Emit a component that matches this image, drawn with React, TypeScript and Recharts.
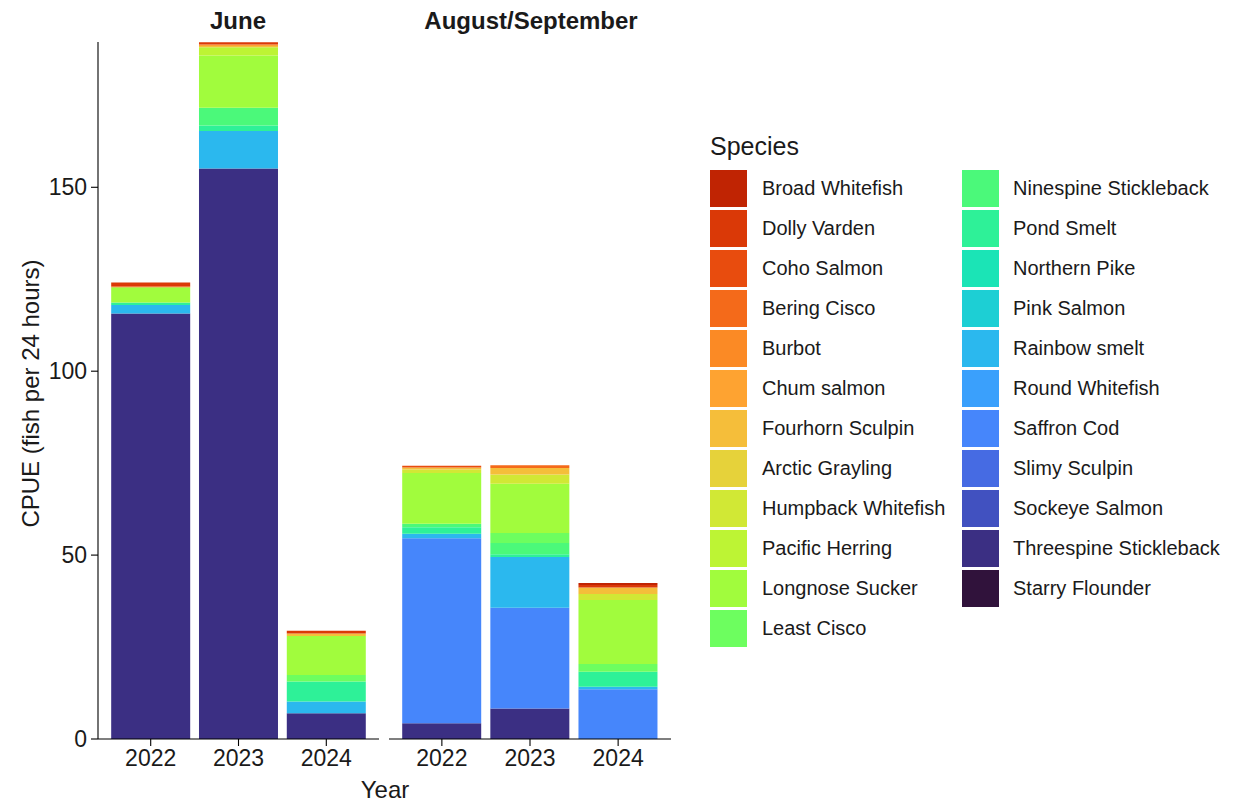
import React from 'react';
import { BarChart, Bar, XAxis, YAxis } from 'recharts';

const FONT = '"Liberation Sans", Arial, sans-serif';

const years = ['2022', '2023', '2024'];
const yTicks = [0, 50, 100, 150];

// legend order (top of the stack first)
const speciesNames = [
  'Broad Whitefish', 'Dolly Varden', 'Coho Salmon', 'Bering Cisco', 'Burbot', 'Chum salmon',
  'Fourhorn Sculpin', 'Arctic Grayling', 'Humpback Whitefish', 'Pacific Herring', 'Longnose Sucker',
  'Least Cisco', 'Ninespine Stickleback', 'Pond Smelt', 'Northern Pike', 'Pink Salmon',
  'Rainbow smelt', 'Round Whitefish', 'Saffron Cod', 'Slimy Sculpin', 'Sockeye Salmon',
  'Threespine Stickleback', 'Starry Flounder',
];

const speciesColors = [
  '#C02403', '#DA3907', '#E84C0E', '#F46A1A', '#FB8A25', '#FEA331',
  '#F5BE3A', '#E6D23A', '#D1E835', '#BDF434', '#A1FC3D',
  '#6DFE5F', '#4BF97A', '#2EF198', '#1BE4B6', '#1DCFD4',
  '#2BB8EE', '#3AA0FC', '#4686FB', '#466BE3', '#4151C0',
  '#3B2F83', '#30123B',
];

// CPUE per species: [June 2022, June 2023, June 2024, Aug/Sep 2022, Aug/Sep 2023, Aug/Sep 2024]
const broadWhitefish = [0, 0, 0, 0, 0, 0.5];
const dollyVarden = [1.0, 0.6, 0.7, 0, 0, 0.7];
const cohoSalmon = [0, 0, 0, 0.5, 0, 0];
const beringCisco = [0.3, 0, 0, 0, 0.7, 0];
const burbot = [0, 0, 0, 0, 0, 0];
const chumSalmon = [0, 0.4, 0, 0, 0, 0];
const fourhornSculpin = [0, 0.3, 0.7, 0.5, 1.8, 1.8];
const arcticGrayling = [0, 0, 0, 0, 0, 0];
const humpbackWhitefish = [0, 0, 0, 1.0, 2.5, 1.6];
const pacificHerring = [0, 2.3, 0, 0, 0, 0];
const longnoseSucker = [4.1, 14.2, 10.6, 13.8, 13.4, 17.4];
const leastCisco = [0, 0, 1.8, 0, 2.7, 2.1];
const ninespineStickleback = [0, 4.8, 0, 0.9, 3.1, 0];
const pondSmelt = [0.7, 1.5, 5.4, 1.8, 0.7, 4.1];
const northernPike = [0, 0, 0, 0, 0, 0];
const pinkSalmon = [0, 0, 0, 0, 0, 0];
const rainbowSmelt = [2.3, 10.2, 3.2, 1.2, 13.8, 0.7];
const roundWhitefish = [0, 0, 0, 0, 0, 0];
const saffronCod = [0, 0, 0, 50.3, 27.4, 13.5];
const slimySculpin = [0, 0, 0, 0, 0, 0];
const sockeyeSalmon = [0, 0, 0, 0, 0, 0];
const threespineStickleback = [115.7, 155.1, 7.0, 4.3, 8.3, 0];
const starryFlounder = [0, 0, 0, 0, 0, 0];

const speciesValues = [
  broadWhitefish, dollyVarden, cohoSalmon, beringCisco, burbot, chumSalmon,
  fourhornSculpin, arcticGrayling, humpbackWhitefish, pacificHerring, longnoseSucker,
  leastCisco, ninespineStickleback, pondSmelt, northernPike, pinkSalmon,
  rainbowSmelt, roundWhitefish, saffronCod, slimySculpin, sockeyeSalmon,
  threespineStickleback, starryFlounder,
];

const buildRows = (offset: number) =>
  years.map((year, i) => {
    const row: any = { year };
    speciesNames.forEach((name, s) => {
      row[name] = speciesValues[s][offset + i];
    });
    return row;
  });

const juneData = buildRows(0);
const augData = buildRows(3);

const Y_MAX = 189.5;
const axisLine = { stroke: '#000', strokeWidth: 1.1 };
const tickStyle = { fill: '#1a1a1a', fontSize: 23, fontFamily: FONT };

// bars drawn bottom-up, so reverse the legend order
const stackOrder = speciesNames.map((_, i) => i).reverse();

function Panel({ data, showY }: { data: any[]; showY: boolean }) {
  return (
    <BarChart
      width={showY ? 382 : 284}
      height={790}
      data={data}
      margin={{ top: 42, right: showY ? 3 : 2, left: 0, bottom: 0 }}
      barCategoryGap="5%"
    >
      <XAxis
        dataKey="year"
        padding={{ left: 8.8, right: 8.8 }}
        axisLine={axisLine}
        tickLine={{ stroke: '#000', strokeWidth: 1.1 }}
        tickSize={7}
        tickMargin={4}
        tick={tickStyle}
        height={51}
        interval={0}
      />
      <YAxis
        hide={!showY}
        type="number"
        domain={[0, Y_MAX]}
        ticks={yTicks}
        allowDataOverflow
        width={98}
        axisLine={axisLine}
        tickLine={{ stroke: '#000', strokeWidth: 1.1 }}
        tickSize={7}
        tickMargin={4}
        tick={tickStyle}
        label={
          showY
            ? (props: any) => {
                const vb = props.viewBox;
                const cx = 30;
                const cy = vb.y + vb.height / 2 + 3;
                return (
                  <text
                    x={cx}
                    y={cy}
                    transform={`rotate(-90, ${cx}, ${cy})`}
                    textAnchor="middle"
                    dominantBaseline="central"
                    fontSize={24}
                    fontFamily={FONT}
                    fill="#1a1a1a"
                  >
                    CPUE (fish per 24 hours)
                  </text>
                );
              }
            : undefined
        }
      />
      {stackOrder.map((s) => (
        <Bar
          key={speciesNames[s]}
          dataKey={speciesNames[s]}
          stackId="a"
          fill={speciesColors[s]}
          isAnimationActive={false}
        />
      ))}
    </BarChart>
  );
}

function SpeciesLegend() {
  const col1 = speciesNames.slice(0, 12);
  const col2 = speciesNames.slice(12);
  const renderCol = (names: string[], startIdx: number, keyX: number, textX: number) =>
    names.map((name, i) => (
      <React.Fragment key={name}>
        <div
          style={{
            position: 'absolute',
            left: keyX,
            top: 170 + i * 40,
            width: 37,
            height: 37,
            background: speciesColors[startIdx + i],
          }}
        />
        <div
          style={{
            position: 'absolute',
            left: textX,
            top: 170 + i * 40,
            height: 37,
            lineHeight: '37px',
            fontSize: 20,
            fontFamily: FONT,
            color: '#1a1a1a',
            whiteSpace: 'nowrap',
          }}
        >
          {name}
        </div>
      </React.Fragment>
    ));
  return (
    <>
      <div
        style={{
          position: 'absolute',
          left: 710,
          top: 131,
          fontSize: 25,
          fontFamily: FONT,
          color: '#1a1a1a',
          lineHeight: '30px',
        }}
      >
        Species
      </div>
      {renderCol(col1, 0, 710, 762)}
      {renderCol(col2, 12, 962, 1013)}
    </>
  );
}

export default function App() {
  const titleStyle: React.CSSProperties = {
    position: 'absolute',
    top: 6,
    fontSize: 24,
    fontWeight: 'bold',
    fontFamily: FONT,
    color: '#1a1a1a',
    transform: 'translateX(-50%)',
    whiteSpace: 'nowrap',
    lineHeight: '30px',
  };
  return (
    <div style={{ position: 'absolute', left: 0, top: 0, width: 1233, height: 806, background: '#fff' }}>
      <div style={{ position: 'absolute', left: 0, top: 0 }}>
        <Panel data={juneData} showY />
      </div>
      <div style={{ position: 'absolute', left: 389, top: 0 }}>
        <Panel data={augData} showY={false} />
      </div>
      <div style={{ ...titleStyle, left: 238 }}>June</div>
      <div style={{ ...titleStyle, left: 531 }}>August/September</div>
      <div
        style={{
          position: 'absolute',
          left: 385,
          top: 775,
          transform: 'translateX(-50%)',
          fontSize: 24,
          fontFamily: FONT,
          color: '#1a1a1a',
          lineHeight: '30px',
        }}
      >
        Year
      </div>
      <SpeciesLegend />
    </div>
  );
}
